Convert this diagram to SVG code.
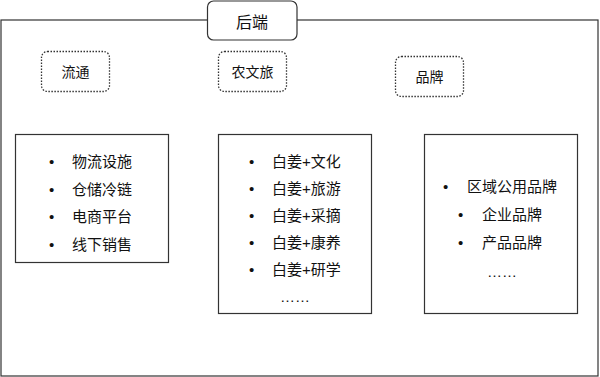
<svg xmlns="http://www.w3.org/2000/svg" width="600" height="377" viewBox="0 0 600 377">
<style>
text{font-family:"Liberation Sans","Noto Sans CJK SC",sans-serif;fill:#111;}
.solid{fill:#fff;stroke:#333;stroke-width:1.2;}
.dash{fill:#fff;stroke:#333;stroke-width:1.3;stroke-dasharray:1.5 1.5;}
.lbl{font-size:14px;text-anchor:middle;}
.item{font-size:15px;}
.mid{text-anchor:middle;}
</style>
<g id="backend">
<rect class="solid" x="1" y="20" width="597" height="356"/>
<rect class="solid" x="207.5" y="1" width="89.5" height="39" rx="6"/>
<text x="252" y="28" font-size="16" text-anchor="middle">后端</text>
</g>
<g id="liutong">
<rect class="dash" x="41.5" y="51.5" width="68" height="40" rx="6"/>
<text class="lbl" x="75.5" y="77">流通</text>
</g>
<g id="nongwenlv">
<rect class="dash" x="218.5" y="51.5" width="68" height="40" rx="6"/>
<text class="lbl" x="252.5" y="77">农文旅</text>
</g>
<g id="pinpai">
<rect class="dash" x="395.5" y="56.5" width="68" height="40" rx="6"/>
<text class="lbl" x="429.5" y="82">品牌</text>
</g>
<g id="list-liutong">
<rect class="solid" x="15.5" y="134.5" width="153" height="128"/>
<g class="item">
<text x="49" y="167">•</text><text x="72" y="167">物流设施</text>
<text x="49" y="194.5">•</text><text x="72" y="194.5">仓储冷链</text>
<text x="49" y="222">•</text><text x="72" y="222">电商平台</text>
<text x="49" y="249.5">•</text><text x="72" y="249.5">线下销售</text>
</g>
</g>
<g id="list-nongwenlv">
<rect class="solid" x="218.5" y="134.5" width="153" height="179"/>
<g class="item">
<text x="249" y="167">•</text><text x="272" y="167">白姜+文化</text>
<text x="249" y="194">•</text><text x="272" y="194">白姜+旅游</text>
<text x="249" y="221">•</text><text x="272" y="221">白姜+采摘</text>
<text x="249" y="248">•</text><text x="272" y="248">白姜+康养</text>
<text x="249" y="275">•</text><text x="272" y="275">白姜+研学</text>
<text x="280" y="302">……</text>
</g>
</g>
<g id="list-pinpai">
<rect class="solid" x="424.5" y="134.5" width="153" height="179"/>
<g class="item">
<text x="443" y="192">•</text><text x="467" y="192">区域公用品牌</text>
<text x="458" y="220">•</text><text x="482" y="220">企业品牌</text>
<text x="458" y="248">•</text><text x="482" y="248">产品品牌</text>
<text x="502" y="277" class="mid">……</text>
</g>
</g>
<g id="connectors"></g>
</svg>
